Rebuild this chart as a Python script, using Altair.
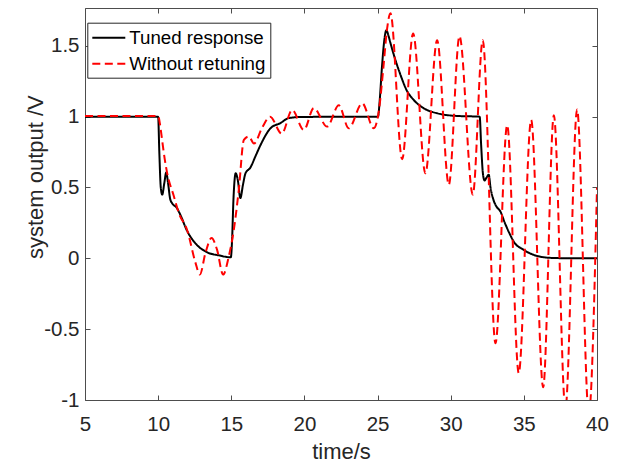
import altair as alt
import pandas as pd

# ---- data ----
series_names = ["Tuned response", "Without retuning"]

t_tuned = [5, 10.0, 10.08, 10.18, 10.28, 10.42, 10.55, 10.68, 10.82, 10.98, 11.25,
           11.55, 11.95, 12.6, 13.3, 14.2, 14.97, 15.05, 15.15, 15.3, 15.45, 15.62,
           15.8, 15.97, 16.3, 16.65, 17.0, 17.68, 18.36, 18.93, 19.8, 25.03, 25.15,
           25.3, 25.45, 25.6, 25.75, 25.88, 26.22, 26.57, 27.02, 27.47, 28.16, 29.07,
           30.44, 31.98, 32.08, 32.2, 32.31, 32.45, 32.6, 32.72, 32.9, 33.1, 33.4,
           33.7, 34.0, 34.31, 34.99, 35.9, 36.9, 38.5, 40]
v_tuned = [1.0, 1.0, 0.75, 0.5, 0.45, 0.53, 0.605, 0.53, 0.42, 0.385, 0.36,
           0.3, 0.2, 0.1, 0.045, 0.02, 0.007, 0.12, 0.42, 0.6, 0.55, 0.425,
           0.52, 0.6, 0.64, 0.72, 0.80, 0.918, 0.955, 0.99, 0.998, 1.0, 1.12,
           1.35, 1.53, 1.61, 1.57, 1.52, 1.4, 1.294, 1.18, 1.118, 1.059, 1.024,
           1.005, 1.0, 0.8, 0.6, 0.55, 0.57, 0.59, 0.5, 0.42, 0.37, 0.33,
           0.25, 0.18, 0.118, 0.06, 0.017, 0.003, 0.0, 0.0]

t_orig = [5, 10.0, 10.12, 10.27, 10.45, 10.62, 11.07, 11.41, 11.98, 12.55, 12.85,
          13.24, 13.65, 14.03, 14.44, 14.83, 15.17, 15.51, 15.86, 16.2, 16.55,
          17.1, 17.65, 18.45, 19.16, 19.96, 20.64, 21.55, 22.35, 23.03, 23.95,
          24.74, 25.1, 25.4, 25.65, 25.88, 26.68, 27.43, 28.27, 29.07, 29.87,
          30.6, 31.51, 32.19, 33.06, 33.86, 34.65, 35.5, 36.32, 37.05, 37.84,
          38.64, 39.44, 40]
v_orig = [1.005, 1.005, 0.95, 0.836, 0.7, 0.6, 0.44, 0.32, 0.2, -0.03, -0.115,
          0.04, 0.144, 0.06, -0.115, 0.014, 0.2, 0.48, 0.836, 0.86, 0.81,
          0.92, 1.0, 0.88, 1.047, 0.906, 1.06, 0.93, 1.08, 0.918, 1.094,
          0.918, 1.05, 1.35, 1.62, 1.73, 0.70, 1.587, 0.60, 1.54, 0.52,
          1.568, 0.45, 1.54, -0.6, 0.94, -0.81, 0.977, -0.91, 1.01, -1.06,
          1.05, -1.1, 0.5]

x_ticks = [5, 10, 15, 20, 25, 30, 35, 40]
y_ticks = [-1, -0.5, 0, 0.5, 1, 1.5]

df_tuned = pd.DataFrame({"t": t_tuned, "v": v_tuned, "series": series_names[0]})
df_orig = pd.DataFrame({"t": t_orig, "v": v_orig, "series": series_names[1]})

# ---- styling ----
W, H = 512, 392
AX = "#262626"
FRAME = "#4d4d4d"
FONT = "Liberation Sans"

xs = alt.Scale(domain=[5, 40], nice=False, zero=False)
ys = alt.Scale(domain=[-1, 1.767], nice=False, zero=False)

legend = alt.Legend(
    title=None, orient="none", legendX=2.3, legendY=14.7,
    strokeColor=AX, fillColor="white", padding=4,
    labelFont=FONT, labelFontSize=18.7, labelColor="black", labelOffset=16,
    symbolType="M-1,0H2.3", symbolSize=400, symbolStrokeWidth=2, rowPadding=5,
)
color = alt.Color("series:N", scale=alt.Scale(domain=series_names, range=["#000000", "#ff0000"]), legend=legend)
dash = alt.StrokeDash("series:N", scale=alt.Scale(domain=series_names, range=[[1, 0], [8, 4.5]]), legend=legend)

x_main = alt.Axis(values=x_ticks, orient="bottom", ticks=False, tickSize=0, domain=False, grid=False,
                  labelFontSize=20.5, labelPadding=30, labelBaseline="alphabetic", labelColor=AX,
                  labelFlush=False, title="time/s", titleFontSize=22, titleFontWeight="normal",
                  titleColor=AX, titleY=58.3, titleBaseline="alphabetic")
y_main = alt.Axis(values=y_ticks, orient="left", ticks=False, tickSize=0, domain=False, grid=False,
                  labelFontSize=20.5, labelPadding=6, labelColor=AX, labelExpr="toString(datum.value)",
                  title="system output /V", titleFontSize=22, titleFontWeight="normal", titleColor=AX,
                  titleX=-42.7, titleY=168.7, titleBaseline="alphabetic")

def tick_axis(vals, orient, offset):
    return alt.Axis(values=vals, orient=orient, offset=offset, ticks=True, tickSize=5, tickWidth=1,
                    tickColor=FRAME, labels=False, domain=False, grid=False, title=None)

black = alt.Chart(df_tuned).mark_line(strokeWidth=2, interpolate="monotone", clip=True).encode(
    x=alt.X("t:Q", scale=xs, axis=x_main),
    y=alt.Y("v:Q", scale=ys, axis=y_main),
    color=color, strokeDash=dash,
)
red = alt.Chart(df_orig).mark_line(strokeWidth=2, interpolate="monotone", clip=True).encode(
    x=alt.X("t:Q", scale=xs, axis=tick_axis(x_ticks, "top", -H)),
    y=alt.Y("v:Q", scale=ys, axis=tick_axis(y_ticks, "right", -W)),
    color=color, strokeDash=dash,
)
ghost = alt.Chart(df_tuned).mark_line(strokeOpacity=0, clip=True).encode(
    x=alt.X("t:Q", scale=xs, axis=tick_axis(x_ticks, "bottom", -H)),
    y=alt.Y("v:Q", scale=ys, axis=tick_axis(y_ticks, "left", -W)),
)

chart = alt.layer(black, red, ghost).resolve_axis(x="independent", y="independent").properties(
    width=W, height=H,
    autosize=alt.AutoSizeParams(type="none"),
    padding={"left": 77, "top": 0, "right": 17, "bottom": 64},
).configure(font=FONT).configure_view(stroke=FRAME, strokeWidth=1)

chart.save("out.html", embed_options={"renderer": "svg", "actions": False})
